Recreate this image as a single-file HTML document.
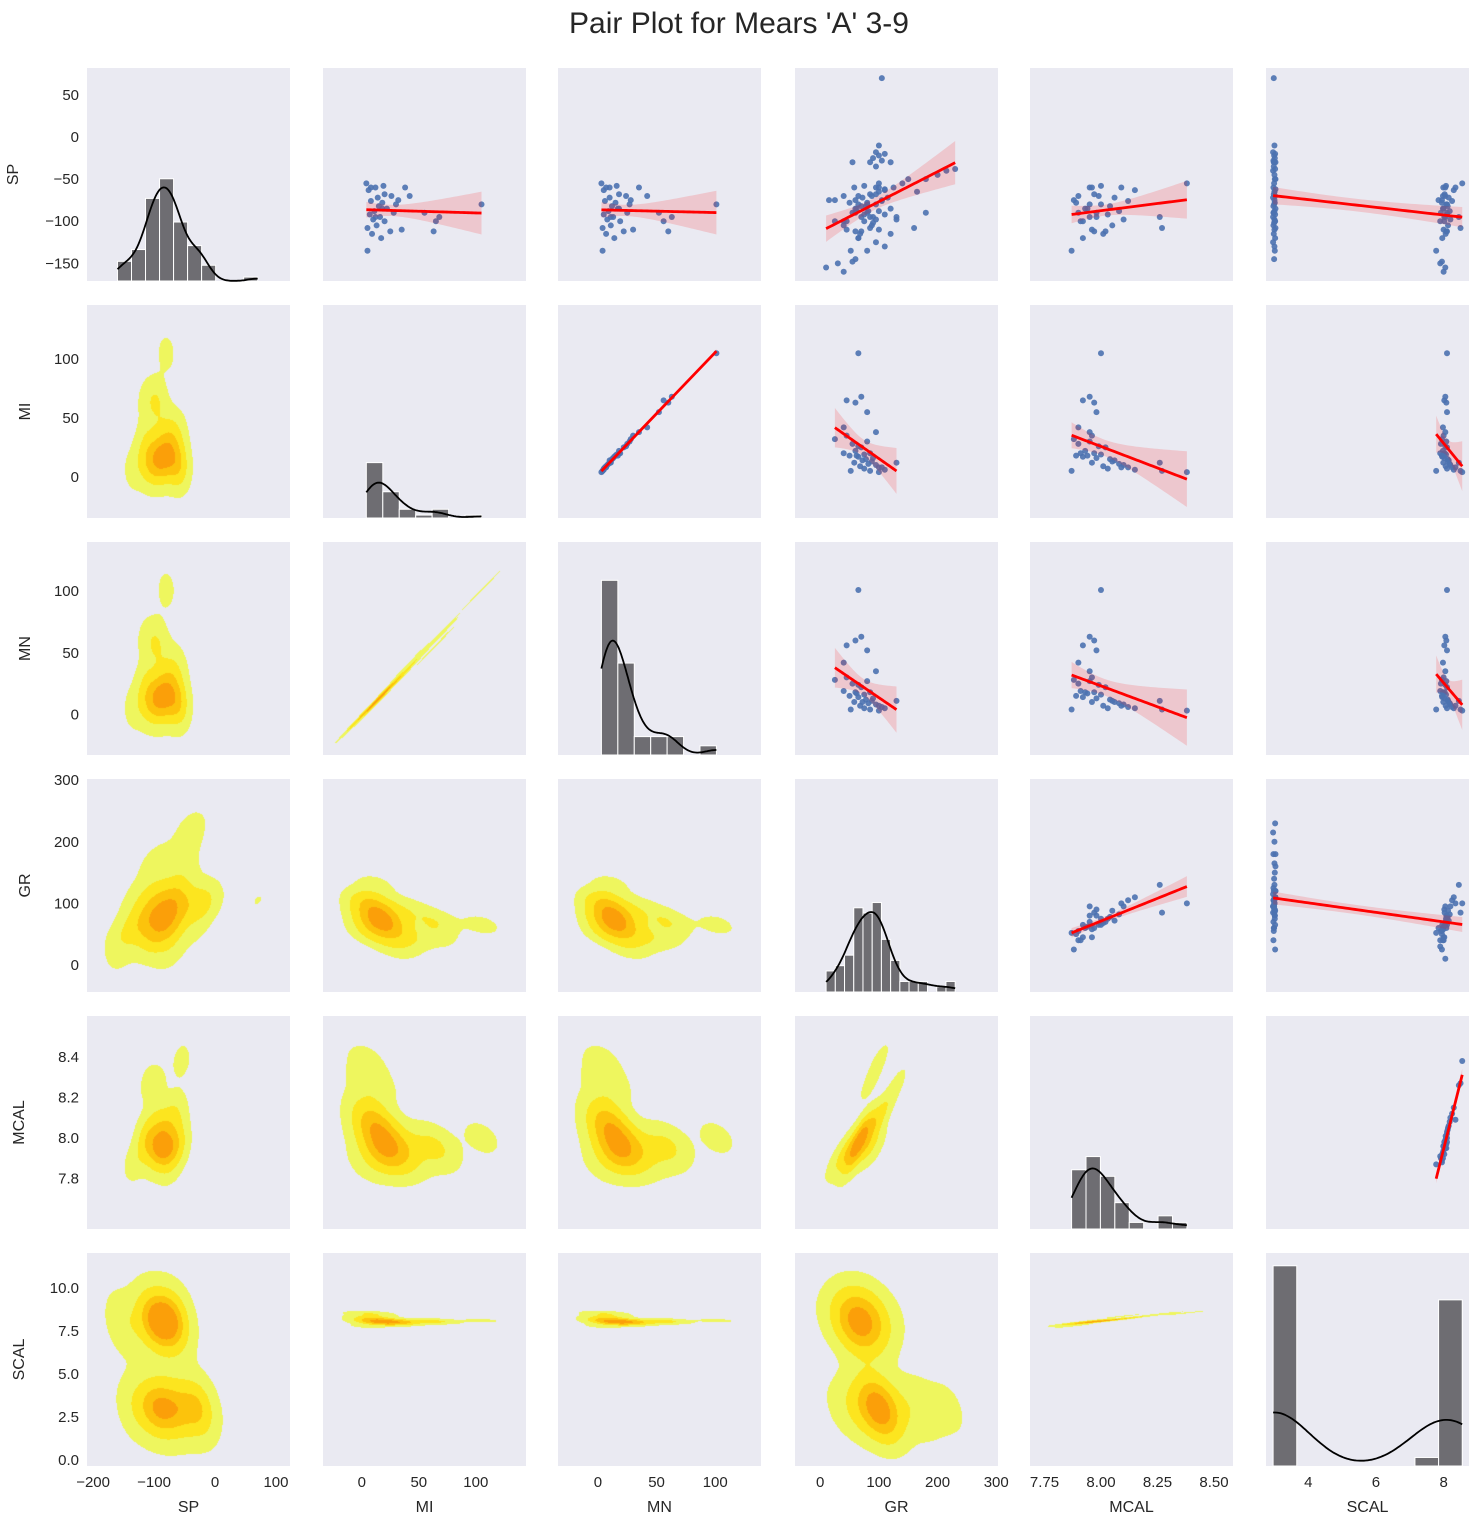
<!DOCTYPE html>
<html><head><meta charset="utf-8"><style>
body{margin:0;background:#fff;font-family:"Liberation Sans","DejaVu Sans",sans-serif;}
#wrap{position:relative;width:1478px;height:1526px;overflow:hidden;}
svg{position:absolute;left:0;top:0;}
canvas{position:absolute;}
</style></head><body>
<div id="wrap">
<svg id="bg" width="1478" height="1526"></svg>
<svg id="fg" width="1478" height="1526">
<text x="739" y="33" text-anchor="middle" font-size="30" fill="#262626">Pair Plot for Mears 'A' 3-9</text>
</svg>
</div>
<script>
const VARS = ['SP','MI','MN','GR','MCAL','SCAL'];
// Data columns (null = missing)
const SP = [-80,-95,-100,-112,-90,-70,-60,-110,-75,-90,-112,-85,-68,-58,-78,-120,-95,-82,-72,-105,-60,-88,-98,-115,-76,-92,-63,-135,-108,-55,-85,-100,-70,-80,-95,-60,
 -150,-160,-148,-155,-75,
 70,-10,-18,-20,-22,-25,-28,-30,-30,-35,-38,-40,-45,-50,-55,-60,-62,-65,-68,-70,-72,-75,-78,-80,-82,-85,-88,-90,-92,-95,-98,-100,-102,-105,-108,-110,-115,-120,-125,-130,-135,-145,-90,-50,-65,-30,-100,-75];
const MI = [105,68,65,63,55,42,38,35,32,28,25,22,20,19,18,17,16,15,14,13,12,11,10,9,8,7,6,5,5,4,18,20,26,30,12,8,
 null,null,null,null,null,
 null,null,null,null,null,null,null,null,null,null,null,null,null,null,null,null,null,null,null,null,null,null,null,null,null,null,null,null,null,null,null,null,null,null,null,null,null,null,null,null,null,null,null,null,null,null,null];
const MN = [101,63,56,60,52,42,35,30,28,25,22,18,18,16,15,14,13,12,10,11,10,9,8,7,6,5,5,4,4,3,17,19,24,27,11,7,
 null,null,null,null,null,
 null,null,null,null,null,null,null,null,null,null,null,null,null,null,null,null,null,null,null,null,null,null,null,null,null,null,null,null,null,null,null,null,null,null,null,null,null,null,null,null,null,null,null,null,null,null,null];
const GR = [65,70,45,60,80,40,95,45,25,55,70,60,85,75,50,65,90,78,72,88,58,82,95,68,105,75,110,52,85,100,62,40,65,80,130,100,
 30,40,55,10,60,
 105,100,95,110,100,90,105,120,85,95,230,215,200,150,140,125,110,100,95,88,115,105,80,95,70,120,100,60,110,85,130,75,90,40,160,100,120,65,95,110,80,60,180,180,165,55,25,15];
const MCAL = [8.00,7.95,7.92,7.97,7.98,7.90,7.95,7.96,7.88,7.90,8.02,7.93,7.97,8.00,7.89,7.92,7.98,8.04,8.06,8.05,7.96,8.08,8.10,8.01,8.12,8.03,8.15,7.87,8.27,8.38,7.94,7.91,7.99,7.95,8.26,8.09,
 null,null,null,null,null,
 null,null,null,null,null,null,null,null,null,null,null,null,null,null,null,null,null,null,null,null,null,null,null,null,null,null,null,null,null,null,null,null,null,null,null,null,null,null,null,null,null,null,null,null,null,null,null];
const SCAL = [8.10,8.05,8.02,8.08,8.10,7.98,8.05,8.00,7.95,7.92,8.10,7.98,8.03,8.07,7.95,7.96,8.02,8.12,8.15,8.13,7.99,8.18,8.20,8.06,8.25,8.10,8.30,7.78,8.50,8.55,8.00,7.90,8.05,8.08,8.45,8.35,
 7.90,8.00,7.95,8.05,7.85,
 2.98,3.0,2.96,3.02,2.99,3.01,2.97,3.03,3.0,2.98,3.02,2.96,3.0,3.01,2.99,2.97,3.03,3.0,2.98,3.02,2.96,3.0,3.01,2.99,2.97,3.03,3.0,2.98,3.02,2.96,3.0,3.01,2.99,2.97,3.03,3.0,2.98,3.02,2.96,3.0,3.01,2.99,2.97,3.03,3.0,2.98,3.02];
const COLS = {SP,MI,MN,GR,MCAL,SCAL};
// axis ranges and ticks
const X_RANGE = {SP:[-210,123],MI:[-34,144],MN:[-34,139],GR:[-43,303],MCAL:[7.686,8.584],SCAL:[2.75,8.75]};
const Y_RANGE = {SP:[-171,82],MI:[-35,146],MN:[-33,140],GR:[-44,302],MCAL:[7.551,8.602],SCAL:[-0.35,12.03]};
const X_TICKS = {SP:[-200,-100,0,100],MI:[0,50,100],MN:[0,50,100],GR:[0,100,200,300],MCAL:[7.75,8.00,8.25,8.50],SCAL:[4,6,8]};
const X_TICK_LABELS = {SP:['−200','−100','0','100'],MI:['0','50','100'],MN:['0','50','100'],GR:['0','100','200','300'],MCAL:['7.75','8.00','8.25','8.50'],SCAL:['4','6','8']};
const Y_TICKS = {SP:[-150,-100,-50,0,50],MI:[0,50,100],MN:[0,50,100],GR:[0,100,200,300],MCAL:[7.8,8.0,8.2,8.4],SCAL:[0,2.5,5,7.5,10]};
const Y_TICK_LABELS = {SP:['−150','−100','−50','0','50'],MI:['0','50','100'],MN:['0','50','100'],GR:['0','100','200','300'],MCAL:['7.8','8.0','8.2','8.4'],SCAL:['0.0','2.5','5.0','7.5','10.0']};
const HIST_BINS = {SP:10,MI:7,MN:7,GR:14,MCAL:8,SCAL:8};
const HIST_TOP = {SP:0.48,MI:0.26,MN:0.82,GR:0.42,MCAL:0.34,SCAL:0.94};

const COLX=[87,323,558,795,1030,1266], ROWY=[68,305,542,779,1016,1253], W=203, H=213;
const NS='http://www.w3.org/2000/svg';
const bg=document.getElementById('bg'), fg=document.getElementById('fg'), wrap=document.getElementById('wrap');
function mk(parent,tag,attrs){const e=document.createElementNS(NS,tag);for(const k in attrs)e.setAttribute(k,attrs[k]);parent.appendChild(e);return e;}
function xp(c,v){const r=X_RANGE[VARS[c]];return COLX[c]+(v-r[0])/(r[1]-r[0])*W;}
function yp(r,v){const g=Y_RANGE[VARS[r]];return ROWY[r]+H-(v-g[0])/(g[1]-g[0])*H;}
function pairs(a,b){const xs=[],ys=[];for(let i=0;i<a.length;i++){if(a[i]!=null&&b[i]!=null){xs.push(a[i]);ys.push(b[i]);}}return [xs,ys];}
function mean(a){return a.reduce((s,v)=>s+v,0)/a.length;}

for(let r=0;r<6;r++)for(let c=0;c<6;c++){
  const xv=VARS[c], yv=VARS[r];
  const px=COLX[c], py=ROWY[r];
  if(c<r){
    const cv=document.createElement('canvas');cv.width=W;cv.height=H;cv.style.left=px+'px';cv.style.top=py+'px';
    
    
    wrap.insertBefore(cv,fg);
    const ctx=cv.getContext('2d');ctx.fillStyle='#eaeaf2';ctx.fillRect(0,0,W,H);
    const [xs,ys]=pairs(COLS[xv],COLS[yv]);const n=xs.length;
    const mx=mean(xs),my=mean(ys);let sxx=0,syy=0,sxy=0;
    for(let i=0;i<n;i++){sxx+=(xs[i]-mx)**2;syy+=(ys[i]-my)**2;sxy+=(xs[i]-mx)*(ys[i]-my);}
    const f=Math.pow(n,-1/6)**2;let a=sxx/(n-1)*f,d=syy/(n-1)*f,b=sxy/(n-1)*f;
    const det=a*d-b*b;const ia=d/det,id=a/det,ib=-b/det;
    const st=1,gw=W,gh=H;const dens=new Float64Array(gw*gh);
    const xr=X_RANGE[xv],yr=Y_RANGE[yv];
    for(let j=0;j<gh;j++){const yvv=yr[1]-(j+0.5)/H*(yr[1]-yr[0]);
      for(let i=0;i<gw;i++){const xvv=xr[0]+(i+0.5)/W*(xr[1]-xr[0]);let s=0;
        for(let k=0;k<n;k++){const dx=xvv-xs[k],dy=yvv-ys[k];s+=Math.exp(-0.5*(ia*dx*dx+2*ib*dx*dy+id*dy*dy));}
        dens[j*gw+i]=s;}}
    const sorted=Array.from(dens).sort((p,q)=>q-p);const tot=sorted.reduce((s,v)=>s+v,0);
    const masses=[0.95,0.72,0.45,0.2];const th=[];
    for(const m of masses){let cum=0,t=sorted[sorted.length-1];for(const v of sorted){cum+=v;if(cum>=m*tot){t=v;break;}}th.push(t);}
    const colors=['#eef65e','#fce51f','#fcc30c','#fb9f09'];
    for(let j=0;j<gh;j++)for(let i=0;i<gw;i++){const v=dens[j*gw+i];let lv=-1;for(let q=0;q<4;q++)if(v>=th[q])lv=q;
      if(lv>=0){ctx.fillStyle=colors[lv];ctx.fillRect(i,j,1,1);}}
  } else {
    const rect=mk(bg,'rect',{x:px,y:py,width:W,height:H,fill:'#eaeaf2'});
    
    
  }
  if(c===r){
    const vals=COLS[xv].filter(v=>v!=null);const nb=HIST_BINS[xv];
    const lo=Math.min(...vals),hi=Math.max(...vals),bw=(hi-lo)/nb;const cnt=new Array(nb).fill(0);
    vals.forEach(v=>{cnt[Math.min(nb-1,Math.floor((v-lo)/bw))]++;});
    const m=mean(vals);const sd=Math.sqrt(vals.reduce((s,v)=>s+(v-m)**2,0)/(vals.length-1));const h=sd*Math.pow(vals.length,-0.2);
    const kd=[];for(let k=0;k<=100;k++){const x=lo+(hi-lo)*k/100;let s=0;vals.forEach(v=>{s+=Math.exp(-0.5*((x-v)/h)**2);});kd.push([x,s/(h*Math.sqrt(2*Math.PI))*bw]);}
    const maxC=Math.max(...cnt,...kd.map(p=>p[1]));const sc=HIST_TOP[xv]*H/maxC;const base=py+H;
    const g=mk(fg,'g',{});
    cnt.forEach((ct,k)=>{if(ct===0)return;const x0=xp(c,lo+k*bw),x1=xp(c,lo+(k+1)*bw);
      const b=mk(g,'rect',{x:x0,y:base-ct*sc,width:x1-x0,height:ct*sc,fill:'#6e6d72',stroke:'#fff','stroke-width':1});
      });
    const ln=mk(g,'path',{d:kd.map((p,k)=>(k?'L':'M')+xp(c,p[0]).toFixed(1)+' '+(base-p[1]*sc).toFixed(1)).join(''),fill:'none',stroke:'#000','stroke-width':1.8});
    
  } else if(c>r){
    const [xs,ys]=pairs(COLS[xv],COLS[yv]);const n=xs.length;
    const g=mk(fg,'g',{});
    const mx=mean(xs),my=mean(ys);let sxx=0,sxy=0;for(let i=0;i<n;i++){sxx+=(xs[i]-mx)**2;sxy+=(xs[i]-mx)*(ys[i]-my);}
    const slope=sxy/sxx,icp=my-slope*mx;let sse=0;for(let i=0;i<n;i++)sse+=(ys[i]-icp-slope*xs[i])**2;const s=Math.sqrt(sse/(n-2));
    const x0=Math.min(...xs),x1=Math.max(...xs);const up=[],dn=[],ln=[];
    for(let k=0;k<=60;k++){const x=x0+(x1-x0)*k/60;const yh=icp+slope*x;const se=2*s*Math.sqrt(1/n+(x-mx)**2/sxx);
      up.push([xp(c,x),yp(r,yh+se)]);dn.push([xp(c,x),yp(r,yh-se)]);ln.push([xp(c,x),yp(r,yh)]);}
    xs.forEach((x,i)=>{const p=mk(g,'circle',{cx:xp(c,x),cy:yp(r,ys[i]),r:3,fill:'#4c72b0','fill-opacity':0.9});
      });
    const band=mk(g,'path',{d:'M'+up.map(p=>p.join(' ')).join('L')+'L'+dn.reverse().map(p=>p.join(' ')).join('L')+'Z',fill:'#ff0000','fill-opacity':0.15});
    
    const rl=mk(g,'path',{d:'M'+ln.map(p=>p.join(' ')).join('L'),fill:'none',stroke:'#ff0000','stroke-width':2.8});
    
  }
}
for(let c=0;c<6;c++){const v=VARS[c];
  X_TICKS[v].forEach((t,k)=>{const e=mk(fg,'text',{x:xp(c,t),y:1487,'text-anchor':'middle','font-size':15,fill:'#262626'});e.textContent=X_TICK_LABELS[v][k];
    });
  const l=mk(fg,'text',{x:COLX[c]+W/2,y:1512,'text-anchor':'middle','font-size':16,fill:'#262626'});l.textContent=v;
  
}
for(let r=0;r<6;r++){const v=VARS[r];
  Y_TICKS[v].forEach((t,k)=>{const e=mk(fg,'text',{x:COLX[0]-8,y:yp(r,t)+5,'text-anchor':'end','font-size':15,fill:'#262626'});e.textContent=Y_TICK_LABELS[v][k];
    });
  const cx=(v==='SCAL'||v==='MCAL')?24:(v==='SP'?18:30);const cy=ROWY[r]+H/2;
  const l=mk(fg,'text',{x:cx,y:cy,'text-anchor':'middle','font-size':16,fill:'#262626',transform:'rotate(-90 '+cx+' '+cy+')'});l.textContent=v;
  
}
</script>
</body></html>
